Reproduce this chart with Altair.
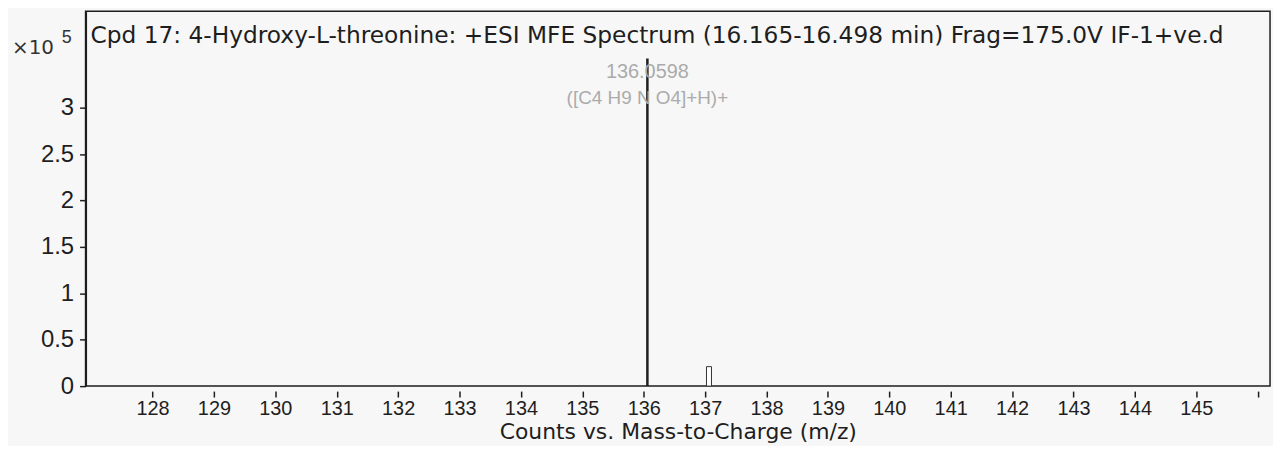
import altair as alt
import pandas as pd

# ---- data (intensity in units of 10^5 counts) ----
mz = [136.0598, 137.0630]
intensity = [3.53, 0.21]
peak_label = ["136.0598", ""]
formula_label = ["([C4 H9 N O4]+H)+", ""]
x_ticks = list(range(128, 147))
y_ticks = [0, 0.5, 1, 1.5, 2, 2.5, 3]
title_text = "Cpd 17: 4-Hydroxy-L-threonine: +ESI MFE Spectrum (16.165-16.498 min) Frag=175.0V IF-1+ve.d"
x_title = "Counts vs. Mass-to-Charge (m/z)"

df = pd.DataFrame({"mz": mz, "intensity": intensity,
                   "label": peak_label, "formula": formula_label})
main = df.iloc[[0]]
minor = df.iloc[[1]]

FONT = "Liberation Sans"
WIDE = "DejaVu Sans"
INK = "#1e1e1e"

xscale = alt.Scale(domain=[126.99, 146.12], nice=False, zero=False)
yscale = alt.Scale(domain=[0, 4.04], nice=False)

x_axis = alt.Axis(values=x_ticks, labelExpr="datum.value == 146 ? '' : datum.value",
                  domain=False, offset=5, tickSize=6, tickColor=INK, tickWidth=1.5,
                  labelFont=FONT, labelFontSize=20, labelColor=INK, labelPadding=2,
                  labelFlush=False, grid=False,
                  title=x_title, titleFont=WIDE, titleFontSize=22,
                  titleFontWeight="normal", titleColor=INK, titlePadding=3)
y_axis = alt.Axis(values=y_ticks, labelExpr="'' + datum.value",
                  domain=True, domainColor=INK, domainWidth=2,
                  tickSize=6, tickColor=INK, tickWidth=1.5,
                  labelFont=FONT, labelFontSize=24, labelColor=INK, labelPadding=6,
                  grid=False, title=None)

X = alt.X("mz:Q", scale=xscale, axis=x_axis)
Y = alt.Y("intensity:Q", scale=yscale, axis=y_axis)

main_peak = alt.Chart(main).mark_rule(color=INK, strokeWidth=2.5).encode(
    x=X, y=Y, y2=alt.datum(0))

minor_peak = alt.Chart(minor).mark_bar(orient="vertical", size=5, fill="white",
                                       stroke="#333333", strokeWidth=1).encode(
    x=alt.X("mz:Q", scale=xscale), y=alt.Y("intensity:Q", scale=yscale), y2=alt.datum(0))

lab1 = alt.Chart(main).mark_text(font=FONT, fontSize=20, color="#ababab",
                                 baseline="middle", dy=14).encode(
    x="mz:Q", y="intensity:Q", text="label:N")
lab2 = alt.Chart(main).mark_text(font=FONT, fontSize=19, color="#ababab",
                                 baseline="middle", dy=40).encode(
    x="mz:Q", y="intensity:Q", text="formula:N")

anno = pd.DataFrame({"t": [title_text]})
title_mark = alt.Chart(anno).mark_text(font=WIDE, fontSize=23.4, color=INK,
                                       align="left", baseline="alphabetic").encode(
    x=alt.value(5), y=alt.value(32), text="t:N")

mult = pd.DataFrame({"t": ["\u00d710"]})
mult_mark = alt.Chart(mult).mark_text(font=WIDE, fontSize=20, color="#333333",
                                      align="left", baseline="alphabetic").encode(
    x=alt.value(-74), y=alt.value(43), text="t:N")
exp = pd.DataFrame({"t": ["5"]})
exp_mark = alt.Chart(exp).mark_text(font=FONT, fontSize=18, color="#333333",
                                    align="left", baseline="alphabetic").encode(
    x=alt.value(-24), y=alt.value(32), text="t:N")

chart = alt.layer(main_peak, minor_peak, lab1, lab2, title_mark, mult_mark, exp_mark).properties(
    width=1191, height=377,
    autosize=alt.AutoSizeParams(type="none"),
    padding={"left": 78, "top": 2, "right": 3, "bottom": 59},
    background="#f7f7f7",
).configure_view(stroke=INK, strokeWidth=1.5)

chart.save("out.html", embed_options={"renderer": "svg", "actions": False})
